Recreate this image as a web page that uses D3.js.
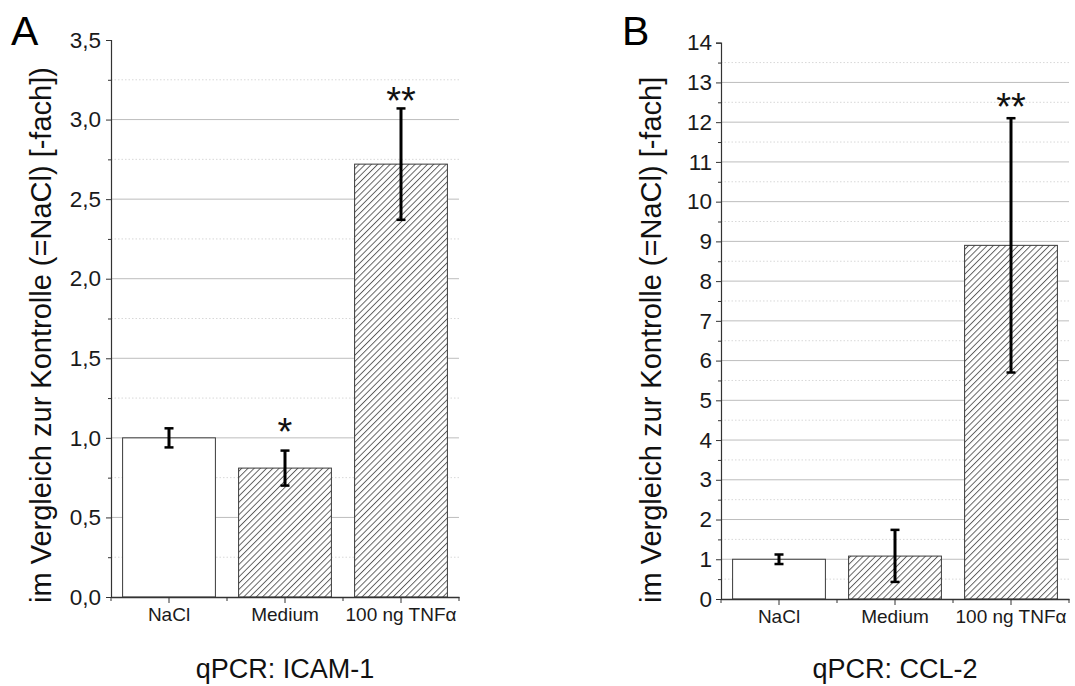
<!DOCTYPE html>
<html>
<head>
<meta charset="utf-8">
<script src="https://cdn.jsdelivr.net/npm/d3@7"></script>
<style>
  html, body { margin: 0; padding: 0; background: #fff; }
  svg { display: block; font-family: "Liberation Sans", Arial, sans-serif; }
</style>
</head>
<body>
<svg id="chart" width="1075" height="686"></svg>
<script>
// Treatment groups shared by both panels
const categories = ["NaCl", "Medium", "100 ng TNFα"];

// Panel A: ICAM-1 fold change vs. NaCl control
const icamMean = [1.00, 0.81, 2.72];
const icamLow  = [0.94, 0.70, 2.37];
const icamHigh = [1.06, 0.92, 3.07];
const icamStars = ["", "*", "**"];
const icamStarAt = [null, 1.09, 3.17];
const icamTicks = [0, 0.5, 1.0, 1.5, 2.0, 2.5, 3.0, 3.5];
const icamTickLabels = ["0,0", "0,5", "1,0", "1,5", "2,0", "2,5", "3,0", "3,5"];

// Panel B: CCL-2 fold change vs. NaCl control
const cclMean = [1.00, 1.08, 8.90];
const cclLow  = [0.88, 0.43, 5.70];
const cclHigh = [1.12, 1.74, 12.10];
const cclStars = ["", "", "**"];
const cclStarAt = [null, null, 12.6];
const cclTicks = [0, 1, 2, 3, 4, 5, 6, 7, 8, 9, 10, 11, 12, 13, 14];
const cclTickLabels = cclTicks.map(String);

const svg = d3.select("#chart");

// Diagonal hatch used for the treated groups
const defs = svg.append("defs");
const hatch = defs.append("pattern")
  .attr("id", "hatch")
  .attr("patternUnits", "userSpaceOnUse")
  .attr("width", 4.4).attr("height", 4.4)
  .attr("patternTransform", "rotate(45)");
hatch.append("rect").attr("width", 4.4).attr("height", 4.4).attr("fill", "#fff");
hatch.append("line")
  .attr("x1", 0.5).attr("y1", 0).attr("x2", 0.5).attr("y2", 4.4)
  .attr("stroke", "#333").attr("stroke-width", 0.75);

function drawPanel(p) {
  const g = svg.append("g");

  const x = d3.scaleBand()
    .domain(categories)
    .range([p.left, p.right])
    .paddingInner(0.2)
    .paddingOuter(0.1);

  const y = d3.scaleLinear()
    .domain([0, p.max])
    .range([p.bottom, p.top]);

  // Grid: solid at labelled values, dotted halfway between
  const step = p.ticks[1] - p.ticks[0];
  const major = p.ticks.filter(v => v > 0 && v < p.max);
  const minor = p.ticks.slice(0, -1).map(v => v + step / 2);

  g.append("g").selectAll("line").data(minor).join("line")
    .attr("x1", p.left).attr("x2", p.right)
    .attr("y1", d => y(d)).attr("y2", d => y(d))
    .attr("stroke", "#d8d8d8").attr("stroke-width", 1)
    .attr("stroke-dasharray", "1.5,2");

  g.append("g").selectAll("line").data(major).join("line")
    .attr("x1", p.left).attr("x2", p.right)
    .attr("y1", d => y(d)).attr("y2", d => y(d))
    .attr("stroke", "#bdbdbd").attr("stroke-width", 1);

  // Bars
  g.append("g").selectAll("rect").data(categories).join("rect")
    .attr("x", d => x(d))
    .attr("width", x.bandwidth())
    .attr("y", (d, i) => y(p.mean[i]))
    .attr("height", (d, i) => y(0) - y(p.mean[i]))
    .attr("fill", (d, i) => i === 0 ? "#fff" : "url(#hatch)")
    .attr("stroke", "#3a3a3a").attr("stroke-width", 1);

  // Error bars
  const eb = g.append("g").selectAll("g").data(categories).join("g");
  const cx = d => x(d) + x.bandwidth() / 2;
  eb.append("line")
    .attr("x1", cx).attr("x2", cx)
    .attr("y1", (d, i) => y(p.low[i])).attr("y2", (d, i) => y(p.high[i]))
    .attr("stroke", "#000").attr("stroke-width", 3);
  eb.append("line")
    .attr("x1", d => cx(d) - 4.5).attr("x2", d => cx(d) + 4.5)
    .attr("y1", (d, i) => y(p.high[i])).attr("y2", (d, i) => y(p.high[i]))
    .attr("stroke", "#000").attr("stroke-width", 2.5);
  eb.append("line")
    .attr("x1", d => cx(d) - 4.5).attr("x2", d => cx(d) + 4.5)
    .attr("y1", (d, i) => y(p.low[i])).attr("y2", (d, i) => y(p.low[i]))
    .attr("stroke", "#000").attr("stroke-width", 2.5);

  // Significance marks
  g.append("g").selectAll("text")
    .data(categories.filter((d, i) => p.stars[i]))
    .join("text")
    .attr("x", cx)
    .attr("y", d => y(p.starAt[categories.indexOf(d)]))
    .attr("dy", "0.57em")
    .attr("text-anchor", "middle")
    .attr("font-size", 38)
    .attr("fill", "#111")
    .text(d => p.stars[categories.indexOf(d)]);

  // Y axis: labelled ticks plus short minor ticks
  const yAxis = g.append("g")
    .attr("transform", `translate(${p.left},0)`)
    .call(d3.axisLeft(y)
      .tickValues(p.ticks)
      .tickFormat((d, i) => p.tickLabels[i])
      .tickSize(5)
      .tickPadding(p.tickPad));
  yAxis.select(".domain").attr("stroke", "#333").attr("stroke-width", 1.2);
  yAxis.selectAll(".tick line").attr("stroke", "#333");
  yAxis.selectAll(".tick text")
    .attr("font-size", 22.5).attr("fill", "#1a1a1a")
    .attr("font-family", "'Liberation Sans', Arial, sans-serif");

  const yMinor = g.append("g")
    .attr("transform", `translate(${p.left},0)`)
    .call(d3.axisLeft(y).tickValues(minor).tickSize(3).tickFormat(""));
  yMinor.select(".domain").remove();
  yMinor.selectAll(".tick line").attr("stroke", "#333");

  // X axis: ticks at group centres and between groups
  const xAxis = g.append("g")
    .attr("transform", `translate(0,${p.bottom})`)
    .call(d3.axisBottom(x).tickSize(6).tickSizeOuter(0).tickPadding(5));
  xAxis.select(".domain").attr("stroke", "#333").attr("stroke-width", 1.5);
  xAxis.selectAll(".tick line").attr("stroke", "#333");
  xAxis.selectAll(".tick text")
    .attr("font-size", 19).attr("fill", "#1a1a1a")
    .attr("font-family", "'Liberation Sans', Arial, sans-serif");

  const bounds = d3.range(categories.length + 1).map(i => p.left + i * x.step());
  g.append("g").selectAll("line").data(bounds).join("line")
    .attr("x1", d => d).attr("x2", d => d)
    .attr("y1", p.bottom).attr("y2", p.bottom + 4)
    .attr("stroke", "#333").attr("stroke-width", 1);

  // Y title
  g.append("text")
    .attr("transform", `translate(${p.titleX},${603}) rotate(-90)`)
    .attr("text-anchor", "start")
    .attr("font-size", 29)
    .attr("fill", "#111")
    .text(p.yTitle);

  // Gene label under the axis
  g.append("text")
    .attr("x", (p.left + p.right) / 2)
    .attr("y", 678)
    .attr("text-anchor", "middle")
    .attr("font-size", 27)
    .attr("fill", "#111")
    .text(p.gene);

  // Panel letter
  g.append("text")
    .attr("x", p.letterX)
    .attr("y", 45)
    .attr("font-size", 41)
    .attr("fill", "#000")
    .text(p.letter);
}

drawPanel({
  left: 111, right: 459, top: 40, bottom: 597, max: 3.5,
  mean: icamMean, low: icamLow, high: icamHigh,
  stars: icamStars, starAt: icamStarAt,
  ticks: icamTicks, tickLabels: icamTickLabels, tickPad: 5,
  yTitle: "im Vergleich zur Kontrolle (=NaCl) [-fach])",
  titleX: 51, gene: "qPCR: ICAM-1", letter: "A", letterX: 11
});

drawPanel({
  left: 721, right: 1069, top: 42.7, bottom: 599, max: 14,
  mean: cclMean, low: cclLow, high: cclHigh,
  stars: cclStars, starAt: cclStarAt,
  ticks: cclTicks, tickLabels: cclTickLabels, tickPad: 4,
  yTitle: "im Vergleich zur Kontrolle (=NaCl) [-fach]",
  titleX: 661, gene: "qPCR: CCL-2", letter: "B", letterX: 622
});
</script>
</body>
</html>
